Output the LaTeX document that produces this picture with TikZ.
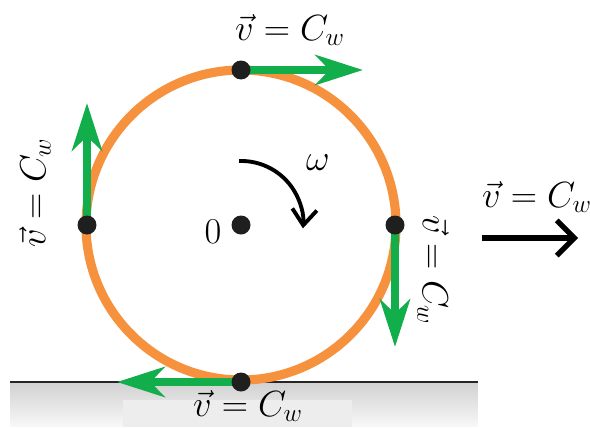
\documentclass[tikz,border=0pt]{standalone}
\usetikzlibrary{positioning,arrows.meta}
\definecolor{wheelorange}{HTML}{F6923D}
\definecolor{velgreen}{HTML}{12AE4B}

\begin{document}
\begin{tikzpicture}[
x=0.02cm,
y=0.02cm,
every node/.style={
font=\fontsize{20}{24}\selectfont
},
dot/.style={
circle,
fill=black!88,
inner sep=0pt,
minimum size=0.38cm
},
vel/.style={
draw=velgreen,
line width=5pt,
-{Stealth[length=27pt,width=17pt,inset=8pt]}
},
>=Latex
]

\useasboundingbox (0,0) rectangle (590,427);

% ground
\foreach \i in {0,...,44} {
\pgfmathsetmacro\shd{3+\i*15/44}
\fill[black!\shd] (10,\i) rectangle (478,\i+1.3);
}
\fill[black!7] (123,0) rectangle (352,27);
\draw[line width=0.8pt, black!85] (10,45) -- (478,45);

% wheel
\coordinate (c) at (241,202);
\draw[wheelorange, line width=5.2pt] (c) circle [radius=155];

\coordinate (ptop) at (241,357);
\coordinate (pleft) at (87,202);
\coordinate (pright) at (395,202);
\coordinate (pbot) at (241,45);

\coordinate (ttop) at (363,357);
\coordinate (tleft) at (87,324);
\coordinate (tright) at (395,80);
\coordinate (tbot) at (117,45);

\draw[vel] (ptop)--(ttop);
\draw[vel] (pleft)--(tleft);
\draw[vel] (pright)--(tright);
\draw[vel] (pbot)--(tbot);

\node (top) [dot] at (ptop) {};
\node (left) [dot] at (pleft) {};
\node (right) [dot] at (pright) {};
\node (bot) [dot] at (pbot) {};
\node (centre) [dot] at (c) {};

% labels
\node (toplbl) at (290,397) {$\vec{v} = C_w$};
\node (leftlbl) [rotate=90] at (35,234) {$\vec{v} = C_w$};
\node (rightlbl) [rotate=-90] at (433,157) {$\vec{v} = C_w$};
\node (botlbl) at (248,21) {$\vec{v} = C_w$};
\node (movlbl) at (537,230) {$\vec{v} = C_w$};

\node (origin) at (213,195) {$0$};
\node (omega) at (318,264) {$\omega$};

% rotation and motion
\coordinate (rot) at (239,266);
\draw[line width=2.2pt, -{Straight Barb[length=9pt,width=14pt]}]
(rot) arc[start angle=92, end angle=-5, radius=62];

\coordinate (mvS) at (482,189);
\coordinate (mvE) at (578,189);
\draw[line width=3pt, -{Straight Barb[length=10pt,width=20pt]}] (mvS)--(mvE);

\end{tikzpicture}
\end{document}
